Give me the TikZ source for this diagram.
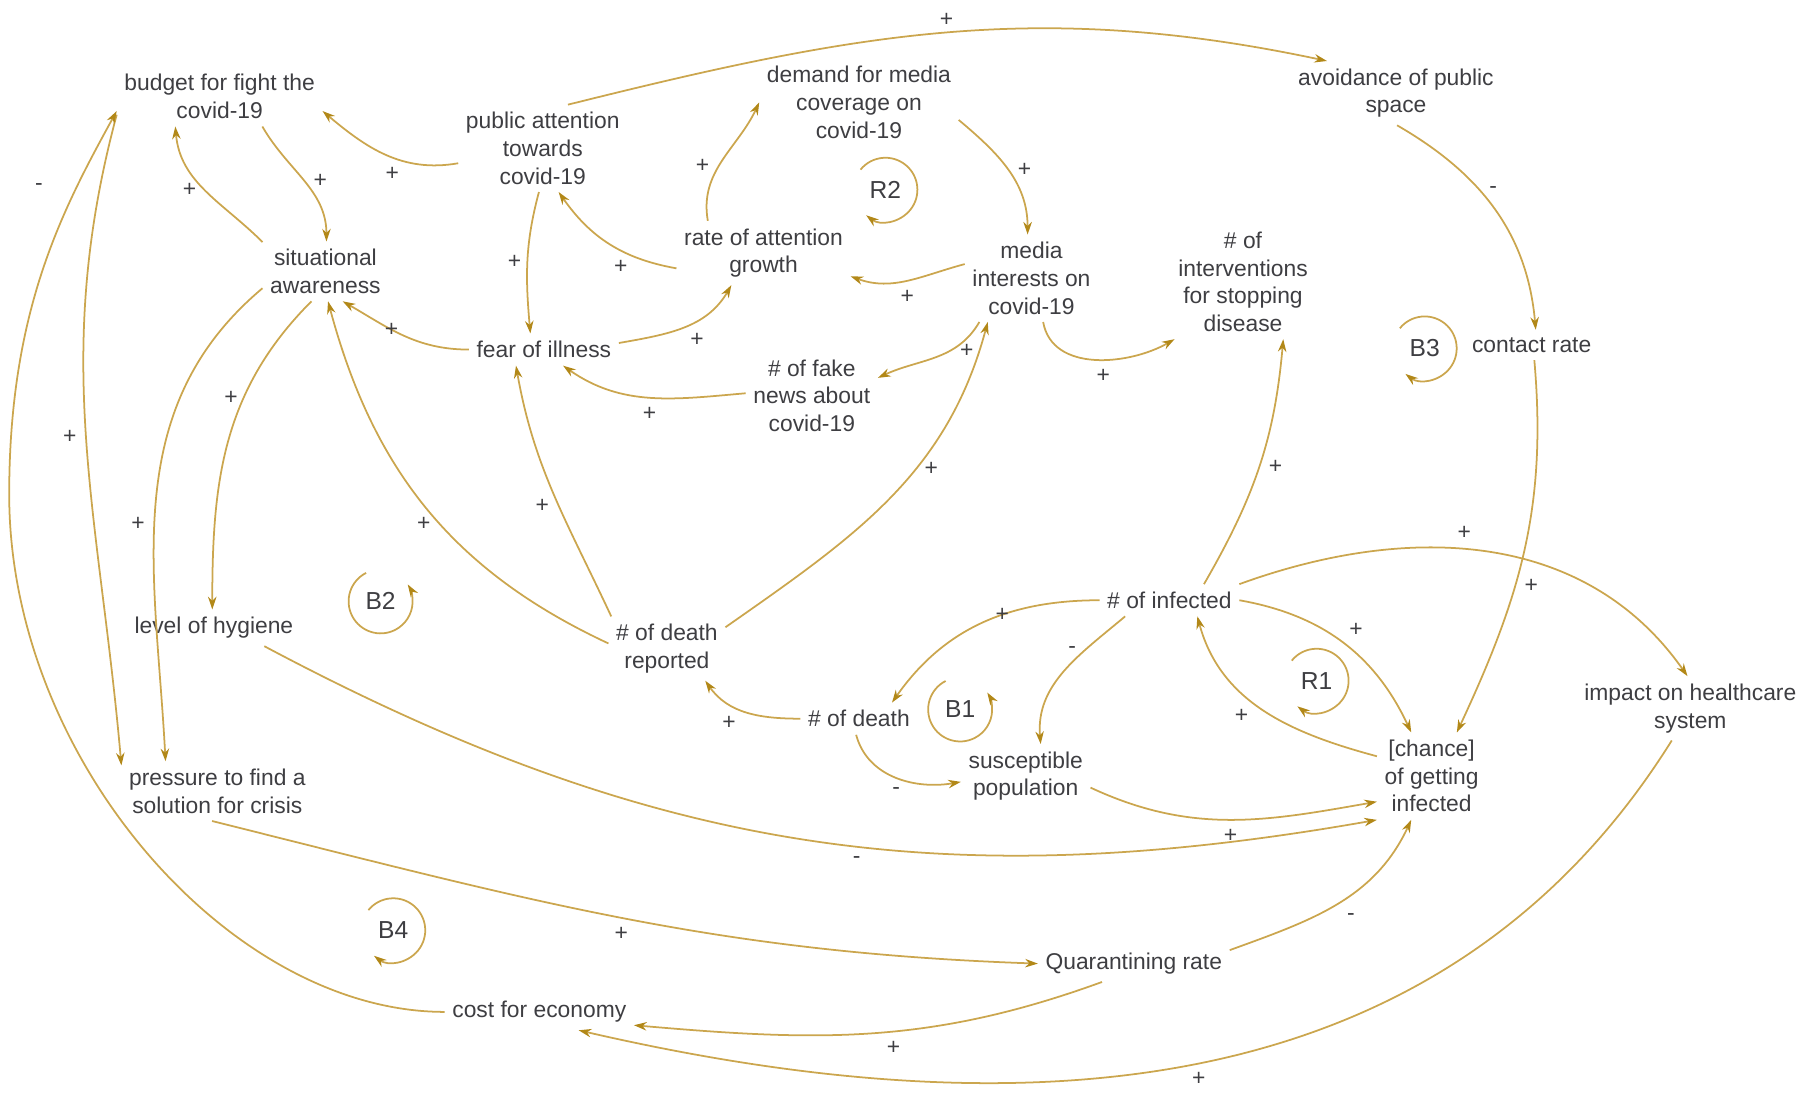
\documentclass[tikz,border=0pt]{standalone}
\usepackage{fontspec}
\setmainfont{Liberation Sans}
\usetikzlibrary{arrows.meta}
\definecolor{cldline}{RGB}{203,166,78}
\definecolor{cldtip}{RGB}{178,136,24}
\definecolor{cldtext}{RGB}{62,62,66}
\tikzstyle{var}=[text=cldtext,align=center,inner sep=2pt,font=\fontsize{6.5}{7.85}\selectfont]
\tikzstyle{sign}=[text=cldtext,inner sep=2.5pt,font=\fontsize{6.5}{7}\selectfont]
\tikzstyle{loopname}=[text=cldtext,inner sep=0pt,font=\fontsize{7}{8}\selectfont]
\tikzstyle{link}=[draw=cldline,line width=0.5pt,-{Stealth[length=3.6pt,width=2.4pt,color=cldtip]}]
\begin{document}
\begin{tikzpicture}[x=0.0115cm,y=0.0115cm]
\useasboundingbox (0,0) rectangle (1568,-955);

\node [var] (budget) at (191,-84) {budget for fight the\\covid-19};
\node [var] (pubatt) at (472,-129) {public attention\\towards\\covid-19};
\node [var] (demand) at (747,-89) {demand for media\\coverage on\\covid-19};
\node [var] (avoid) at (1214,-81) {avoidance of public\\space};
\node [var] (sitaw) at (283,-236) {situational\\awareness};
\node [var] (rate) at (664,-220) {rate of attention\\growth};
\node [var] (media) at (897,-242) {media\\interests on\\covid-19};
\node [var] (interv) at (1081,-245) {\# of\\interventions\\for stopping\\disease};
\node [var] (contact) at (1332,-300) {contact rate};
\node [var] (fear) at (473,-304) {fear of illness};
\node [var] (fake) at (706,-344) {\# of fake\\news about\\covid-19};
\node [var] (hygiene) at (186,-546) {level of hygiene};
\node [var] (dreport) at (580,-564) {\# of death\\reported};
\node [var] (infected) at (1017,-522) {\# of infected};
\node [var] (death) at (747,-625) {\# of death};
\node [var] (suscept) at (892,-675) {susceptible\\population};
\node [var] (chance) at (1245,-675) {[chance]\\of getting\\infected};
\node [var] (impact) at (1470,-616) {impact on healthcare\\system};
\node [var] (pressure) at (189,-688) {pressure to find a\\solution for crisis};
\node [var] (quar) at (986,-838) {Quarantining rate};
\node [var] (cost) at (469,-880) {cost for economy};

\node [loopname] (r2) at (770,-165) {R2};
\node [loopname] (b3) at (1239,-303) {B3};
\node [loopname] (b2) at (331,-523) {B2};
\node [loopname] (b1) at (835,-617) {B1};
\node [loopname] (r1) at (1145,-592) {R1};
\node [loopname] (b4) at (342,-809) {B4};

\draw [link] ([shift={(141:0.32cm)}]r2.center) arc [start angle=141,end angle=-127,radius=0.32cm];
\draw [link] ([shift={(141:0.32cm)}]b3.center) arc [start angle=141,end angle=-127,radius=0.32cm];
\draw [link] ([shift={(141:0.32cm)}]r1.center) arc [start angle=141,end angle=-127,radius=0.32cm];
\draw [link] ([shift={(141:0.32cm)}]b4.center) arc [start angle=141,end angle=-127,radius=0.32cm];
\draw [link] ([shift={(117:0.32cm)}]b2.center) arc [start angle=117,end angle=392,radius=0.32cm];
\draw [link] ([shift={(117:0.32cm)}]b1.center) arc [start angle=117,end angle=392,radius=0.32cm];

\draw [link] (pubatt.60) to [out=14,in=168] node [sign,pos=.5,above=-1pt] (s1) {+} (avoid.155);
\draw [link] (pubatt.190) to [out=190,in=-40] node [sign,pos=.45,below] (s2) {+} (budget.-8);
\draw [link] (budget.-35) to [out=-60,in=90] node [sign,pos=.5,right] (s3) {+} (sitaw.88);
\draw [link] (sitaw.155) to [out=135,in=-85] node [sign,pos=.5,left] (s4) {+} (budget.-146);
\draw [link] (pubatt.-95) to [out=-105,in=95] node [sign,pos=.5,left=-1pt] (s5) {+} (fear.130);
\draw [link] (rate.190) to [out=170,in=-55] node [sign,pos=.4,below] (s6) {+} (pubatt.-70);
\draw [link] (rate.150) to [out=100,in=-115] node [sign,pos=.45,left] (s7) {+} (demand.180);
\draw [link] (demand.-10) to [out=-40,in=90] node [sign,pos=.5,right] (s8) {+} (media.95);
\draw [link] (media.168) to [out=195,in=-20] node [sign,pos=.5,below] (s9) {+} (rate.-15);
\draw [link] (fear.5) to [out=10,in=-120] node [sign,pos=.5,below right=-1pt] (s10) {+} (rate.-135);
\draw [link] (fear.180) to [out=180,in=-30] node [sign,pos=.6] (s11) {+} (sitaw.-60);
\draw [link] (fake.178) to [out=185,in=-35] node [sign,pos=.5,below] (s12) {+} (fear.-40);
\draw [link] (media.-140) to [out=-120,in=25] node [sign,pos=.35,right] (s13) {+} (fake.15);
\draw [link] (media.-75) to [out=-80,in=-150] node [sign,pos=.55,below] (s14) {+} (interv.-140);
\draw [link] (avoid.-88) to [out=-30,in=95] node [sign,pos=.4,right] (s15) {-} (contact.75);
\draw [link] (contact.-80) to [out=-85,in=65] node [sign,pos=.6,right] (s16) {+} (chance.60);
\draw [link] (infected.25) to [out=60,in=-95] node [sign,pos=.5,right] (s17) {+} (interv.-55);
\draw [link] (infected.north east) to [out=20,in=125] node [sign,pos=.45,above] (s18) {+} (impact.95);
\draw [link] (infected.east) to [out=-10,in=115] node [sign,pos=.5,above right=-1pt] (s19) {+} (chance.115);
\draw [link] (chance.160) to [out=165,in=-75] node [sign,pos=.55,below left=-1pt] (s20) {+} (infected.-30);
\draw [link] (infected.west) to [out=180,in=55] node [sign,pos=.4] (s21) {+} (death.26);
\draw [link] (infected.-160) to [out=-140,in=95] node [sign,pos=.3,left] (s22) {-} (suscept.65);
\draw [link] (death.west) to [out=180,in=-55] node [sign,pos=.55,below left=-1pt] (s23) {+} (dreport.-40);
\draw [link] (death.-100) to [out=-75,in=190] node [sign,pos=.5,below] (s24) {-} (suscept.185);
\draw [link] (suscept.-10) to [out=-25,in=190] node [sign,pos=.5,below] (s25) {+} (chance.205);
\draw [link] (hygiene.-20) to [out=-28,in=190] node [sign,pos=.55,below] (s26) {-} (chance.south west);
\draw [link] (dreport.175) to [out=155,in=-75] node [sign,pos=.45,left] (s27) {+} (sitaw.-85);
\draw [link] (dreport.150) to [out=115,in=-80] node [sign,pos=.45,left] (s28) {+} (fear.-150);
\draw [link] (dreport.20) to [out=35,in=-105] node [sign,pos=.6,right] (s29) {+} (media.-135);
\draw [link] (sitaw.-115) to [out=-135,in=90] node [sign,pos=.35,left=-1pt] (s30) {+} (hygiene.95);
\draw [link] (sitaw.-165) to [out=-140,in=93] node [sign,pos=.55,left] (s31) {+} (pressure.150);
\draw [link] (budget.-170) to [out=-105,in=95] node [sign,pos=.5,left] (s32) {+} (pressure.165);
\draw [link] (cost.west) .. controls (200,-880) and (8,-660) .. (8,-430)
  .. controls (8,-270) and (54,-183) .. (budget.-172) node [sign,pos=.75,left=7pt] (s33) {-};
\draw [link] (pressure.-100) to [out=-14,in=178] node [sign,pos=.5,below] (s34) {+} (quar.west);
\draw [link] (quar.8) to [out=20,in=-115] node [sign,pos=.5,below right] (s35) {-} (chance.-115);
\draw [link] (quar.-150) to [out=-160,in=-5] node [sign,pos=.45,below] (s36) {+} (cost.-8);
\draw [link] (impact.-120) to [out=-122,in=-13] node [sign,pos=.5,below] (s37) {+} (cost.-25);
\end{tikzpicture}
\end{document}
